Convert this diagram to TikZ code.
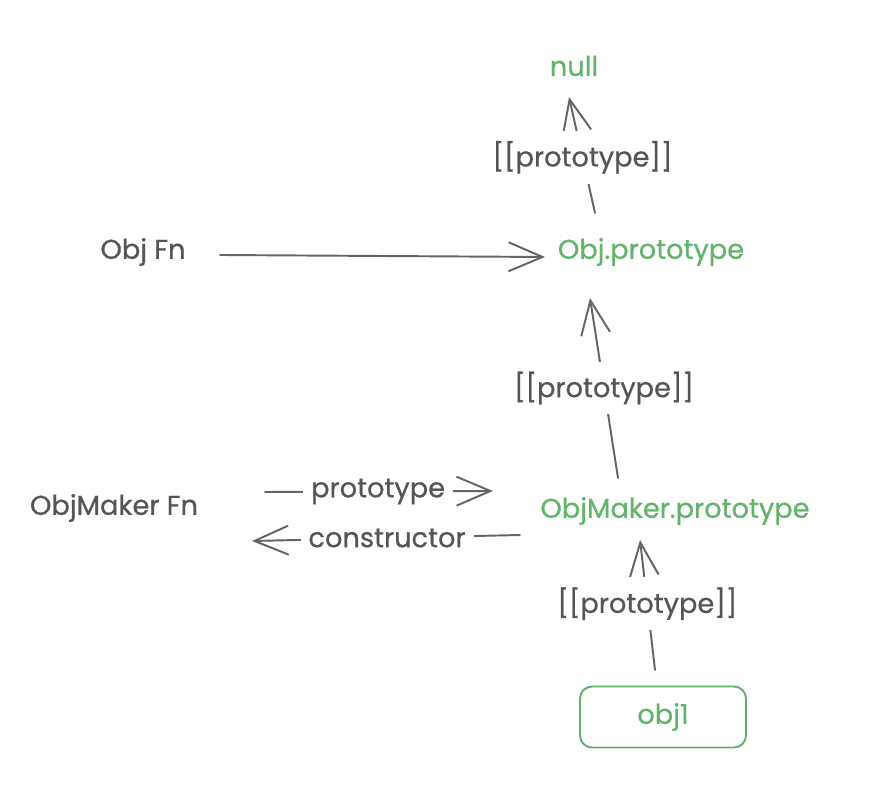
\documentclass[tikz,border=0pt]{standalone}
\usepackage{fontspec}
\setmainfont{Poppins}[FakeBold=0.6]
\usetikzlibrary{arrows.meta,calc}
\definecolor{inkgrey}{RGB}{85,85,85}
\definecolor{linegrey}{RGB}{100,100,100}
\definecolor{protogreen}{RGB}{98,180,106}
\tikzset{
  plain/.style={text=inkgrey, font=\fontsize{15.5}{18}\selectfont},
  proto/.style={text=protogreen, font=\fontsize{15.5}{18}\selectfont},
  link/.style={draw=linegrey, line width=1.1pt, line cap=round},
  linkarrow/.style={link, -{Straight Barb[length=0.68cm,width=0.58cm]}},
  linklabel/.style={plain, fill=white, inner xsep=0.16cm, inner ysep=0.2cm},
}
\begin{document}
\begin{tikzpicture}[x=0.02cm,y=-0.02cm]
  \useasboundingbox[fill=white] (0,0) rectangle (878,786);
  % objects
  \node (null) at (574,66) [proto] {null};
  \node (objproto) at (651,252) [proto] {Obj.prototype};
  \node (objfn) at (143,252) [plain] {Obj Fn};
  \node (makerproto) at (675,511) [proto] {ObjMaker.prototype};
  \node (makerfn) at (114,508) [plain] {ObjMaker Fn};
  \node (obj1) at (663,717) [proto, draw=protogreen, line width=1.1pt,
    rounded corners=0.24cm, minimum width=3.32cm, minimum height=1.22cm] {obj1};
  % links
  \draw[linkarrow] ($(objproto)+(-56,-39)$) -- node[linklabel, pos=0.48] {[[prototype]]} ($(null)+(-5,31)$);
  \draw[linkarrow] ($(objfn)+(77,3)$) -- ($(objproto)+(-106,5)$);
  \draw[linkarrow] ($(makerproto)+(-57,-33)$) -- node[linklabel, pos=0.5] {[[prototype]]} ($(objproto)+(-61,46)$);
  \draw[linkarrow] ($(makerproto)+(-155,24)$) -- node[linklabel, pos=0.496] {constructor} ($(makerfn)+(138,33)$);
  \draw[linkarrow] ($(makerfn)+(151,-16)$) -- node[linklabel, pos=0.496] {prototype} ($(makerproto)+(-182,-20)$);
  \draw[linkarrow] ($(obj1)+(-8,-47)$) -- node[linklabel, pos=0.51] {[[prototype]]} ($(makerproto)+(-35,29)$);
\end{tikzpicture}
\end{document}
